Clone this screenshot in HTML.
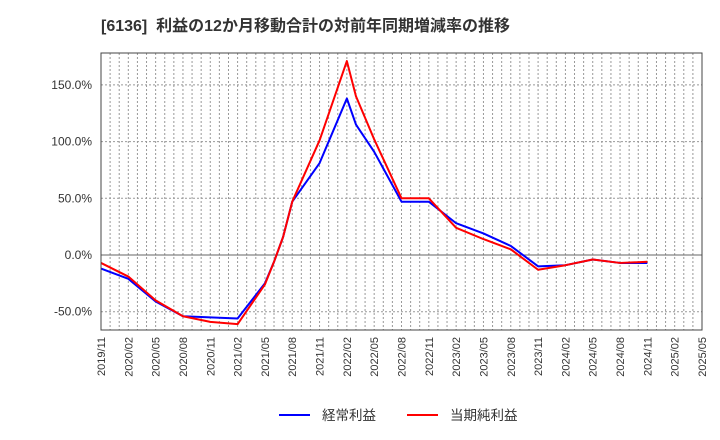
<!DOCTYPE html>
<html><head><meta charset="utf-8"><style>
body{margin:0;background:#fff;}
svg{display:block;font-family:"Liberation Sans","Noto Sans CJK JP",sans-serif;}
</style></head><body>
<svg id="chart" width="720" height="440">
<text x="101" y="31" font-size="16" font-weight="bold" fill="#333" style="white-space:pre">[6136]  利益の12か月移動合計の対前年同期増減率の推移</text>
<g id="grid"></g><g id="series"></g><g id="axes"></g>
<g>
<line x1="279" y1="415" x2="310" y2="415" stroke="#0000ff" stroke-width="2"/>
<text x="322" y="420" font-size="13.5" fill="#333">経常利益</text>
<line x1="407" y1="415" x2="438" y2="415" stroke="#ff0000" stroke-width="2"/>
<text x="450" y="420" font-size="13.5" fill="#333">当期純利益</text>
</g>
</svg>
<script>
const xLabels=["2019/11","2020/02","2020/05","2020/08","2020/11","2021/02","2021/05","2021/08","2021/11","2022/02","2022/05","2022/08","2022/11","2023/02","2023/05","2023/08","2023/11","2024/02","2024/05","2024/08","2024/11","2025/02","2025/05"];
const yTicks=[-50,0,50,100,150];
const blueMonths=[0,3,6,9,15,18,19,20,21,24,27,28,30,33,36,39,42,45,48,51,54,57,60];
const blueValues=[-12,-21,-41,-54,-56,-25,-6,16,47,81,138,115,91,47,47,28,19,8,-10,-9,-4,-7,-7];
const redMonths=[0,3,6,9,12,15,18,19,20,21,24,27,28,30,33,36,39,42,45,48,51,54,57,60];
const redValues=[-7,-19,-40,-54,-59,-61,-26,-6,16,47,101,171,140,102,50,50,24,14,5,-13,-9,-4,-7,-6];
const L=101,R=702,T=53,B=330,NS="http://www.w3.org/2000/svg";
const xm=m=>L+(R-L)*m/66;
const yv=v=>255-v*56.7/50;
function mk(tag,attrs,parent){const e=document.createElementNS(NS,tag);for(const k in attrs)e.setAttribute(k,attrs[k]);parent.appendChild(e);return e;}
const grid=document.getElementById('grid'),axes=document.getElementById('axes'),ser=document.getElementById('series');
for(let m=1;m<66;m++){const l=mk('line',{x1:xm(m),x2:xm(m),y1:T,y2:B,stroke:'#999','stroke-dasharray':'2,2','stroke-width':1},grid);

}
yTicks.forEach(v=>{const l=mk('line',{x1:L,x2:R,y1:yv(v),y2:yv(v),stroke:v===0?'#666':'#999','stroke-dasharray':v===0?'':'2,2','stroke-width':1},grid);


const t=mk('text',{x:92,y:yv(v)+4,'text-anchor':'end','font-size':12,fill:'#333'},axes);


t.textContent=v.toFixed(1)+'%';});
xLabels.forEach((s,i)=>{const x=xm(i*3);const t=mk('text',{x:0,y:0,transform:`translate(${x+4},337) rotate(-90)`,'text-anchor':'end','font-size':11,fill:'#333'},axes);


t.textContent=s;});
const fr=mk('rect',{x:L,y:T,width:R-L,height:B-T,fill:'none',stroke:'#444','stroke-width':1},axes);


function line(ms,vs,c,name){const p=mk('polyline',{points:ms.map((m,i)=>xm(m)+','+yv(vs[i])).join(' '),fill:'none',stroke:c,'stroke-width':2,'stroke-linejoin':'round'},ser);

}
line(blueMonths,blueValues,'#0000ff','ordinary-profit-line');
line(redMonths,redValues,'#ff0000','net-income-line');
</script>
</body></html>
